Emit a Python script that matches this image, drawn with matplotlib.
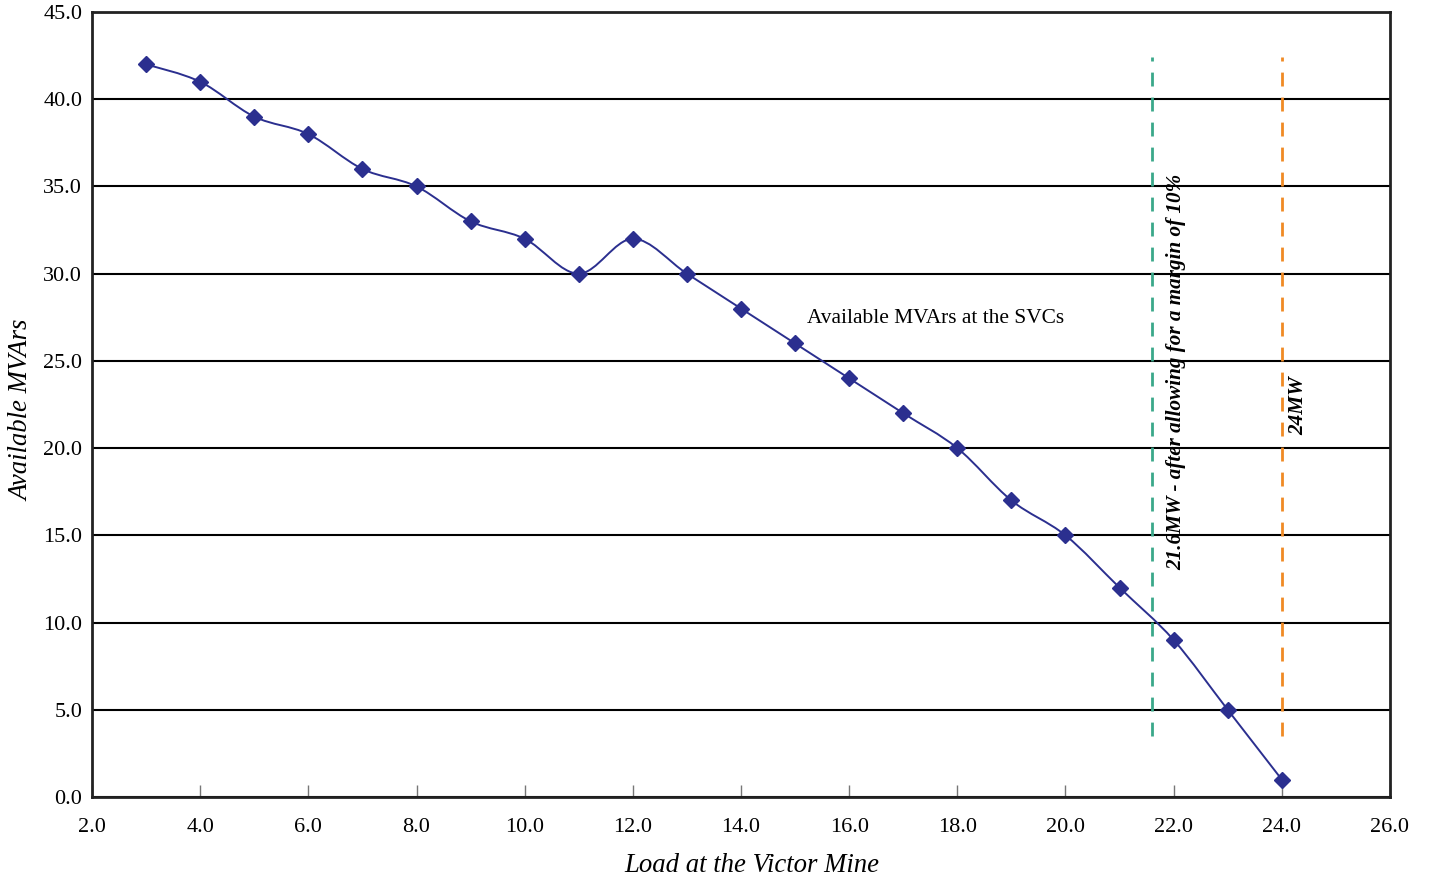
import numpy as np
import matplotlib
matplotlib.use("Agg")
import matplotlib.pyplot as plt
from matplotlib.path import Path
from matplotlib.patches import PathPatch

# load (MW) vs available MVArs
load_mw = [3, 4, 5, 6, 7, 8, 9, 10, 11, 12, 13, 14, 15, 16, 17, 18, 19, 20, 21, 22, 23, 24]
avail_mvar = [42, 41, 39, 38, 36, 35, 33, 32, 30, 32, 30, 28, 26, 24, 22, 20, 17, 15, 12, 9, 5, 1]

x_ticks = [2, 4, 6, 8, 10, 12, 14, 16, 18, 20, 22, 24, 26]
y_ticks = [0, 5, 10, 15, 20, 25, 30, 35, 40, 45]

margin_mw = 21.6
limit_mw = 24.0
marker_span = (3.5, 42.4)

plt.rcParams['font.family'] = ['Liberation Serif', 'DejaVu Serif']

fig = plt.figure(figsize=(14.29, 8.81), dpi=100)
ax = fig.add_axes([0.0644, 0.0953, 0.9083, 0.8911])


def smooth_path(xs, ys, t=1 / 6):
    # excel-like smoothed line: catmull-rom turned into cubic beziers
    xs = np.asarray(xs, float)
    ys = np.asarray(ys, float)
    verts = [(xs[0], ys[0])]
    codes = [Path.MOVETO]
    n = len(xs)
    for i in range(n - 1):
        i0 = max(i - 1, 0)
        i3 = min(i + 2, n - 1)
        c1 = (xs[i] + (xs[i + 1] - xs[i0]) * t, ys[i] + (ys[i + 1] - ys[i0]) * t)
        c2 = (xs[i + 1] - (xs[i3] - xs[i]) * t, ys[i + 1] - (ys[i3] - ys[i]) * t)
        verts += [c1, c2, (xs[i + 1], ys[i + 1])]
        codes += [Path.CURVE4] * 3
    return Path(verts, codes)


ax.add_patch(PathPatch(smooth_path(load_mw, avail_mvar), fill=False,
                       edgecolor='#2b2f8f', lw=1.4, zorder=3))
ax.plot(load_mw, avail_mvar, ls='none', marker='D', ms=8, color='#2b2f8f', zorder=4)

ax.vlines(margin_mw, *marker_span, colors='#3aa88a', linestyles=(0, (5, 4)), lw=2, zorder=2)
ax.vlines(limit_mw, *marker_span, colors='#f08a24', linestyles=(0, (5, 4)), lw=2, zorder=2)

ax.text(15.22, 27.45, 'Available MVArs at the SVCs', fontsize=15.4, va='center', ha='left')
ax.text(22.05, 13.0, '21.6MW - after allowing for a margin of 10%', rotation=90,
        fontsize=15.2, fontweight='bold', fontstyle='italic', ha='center', va='bottom')
ax.text(24.3, 20.75, '24MW', rotation=90, fontsize=15.2, fontweight='bold',
        fontstyle='italic', ha='center', va='bottom')

ax.set_xlim(2, 26)
ax.set_ylim(0, 45)
ax.set_xticks(x_ticks)
ax.set_yticks(y_ticks)
ax.set_xticklabels([f'{v:.1f}' for v in x_ticks])
ax.set_yticklabels([f'{v:.1f}' for v in y_ticks])
ax.tick_params(axis='x', direction='in', length=9, width=1, color='#777777',
               labelsize=16, pad=15)
ax.tick_params(axis='y', length=0, labelsize=16, pad=7)
ax.yaxis.grid(True, color='black', lw=1.5)
ax.set_axisbelow(True)
for s in ax.spines.values():
    s.set_linewidth(2)
    s.set_color('#222222')

ax.set_xlabel('Load at the Victor Mine', fontsize=19.3, fontstyle='italic')
ax.set_ylabel('Available MVArs', fontsize=19.3, fontstyle='italic')
ax.xaxis.set_label_coords(0.508, -0.087)
ax.yaxis.set_label_coords(-0.054, 0.493)
ax.xaxis.label.set_va('center')
ax.yaxis.label.set_va('center')

fig.savefig('out.png', dpi=100)
